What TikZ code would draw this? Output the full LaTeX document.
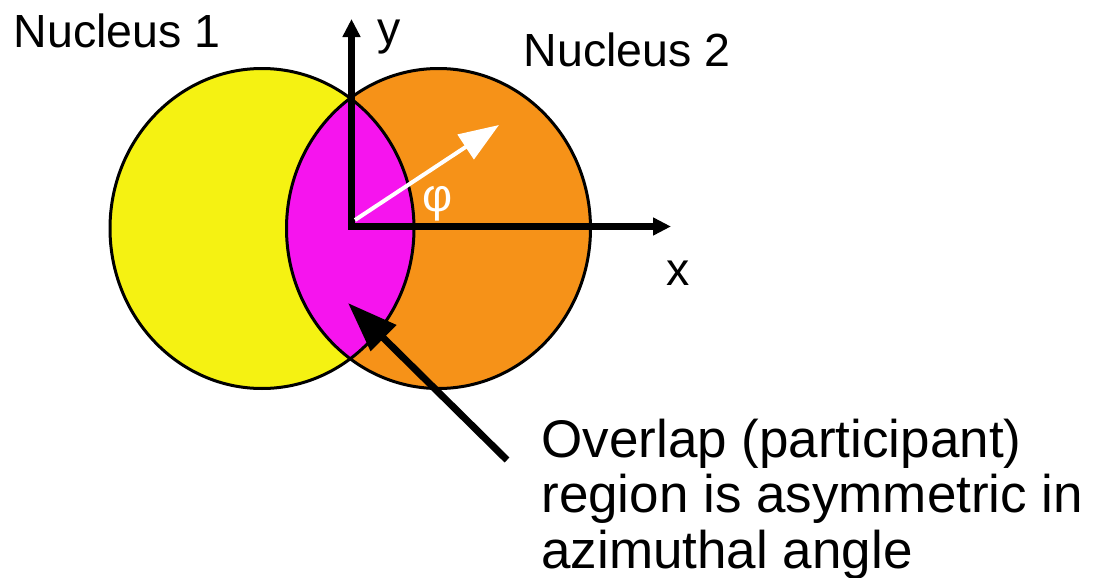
\documentclass[tikz,border=0pt]{standalone}
\usepackage{fontspec}
\setmainfont{Liberation Sans}
\usetikzlibrary{arrows.meta}
\definecolor{nucyellow}{RGB}{245,242,18}
\definecolor{nucorange}{RGB}{246,146,24}
\definecolor{overlap}{RGB}{246,20,238}

\begin{document}
\begin{tikzpicture}[x=0.5pt, y=-0.5pt,
  nucleus/.style={draw=black, line width=1.5pt},
  axis/.style={line width=3.25pt, {Triangle[length=9pt, width=8.5pt]}-{Triangle[length=9pt, width=8.5pt]}},
  lbl/.style={inner sep=0pt, anchor=base west, font=\fontsize{23.25}{28}\selectfont},
  note/.style={inner sep=0pt, anchor=base west, align=left, font=\fontsize{26.5}{27.6}\selectfont},
  arr/.style={-{Triangle[length=25pt, width=17.5pt]}, line width=3.5pt}]
\useasboundingbox (0,0) rectangle (1094,578);
\coordinate (c1) at (262,228.5);
\coordinate (c2) at (438.5,228.5);
% the two nuclei and their overlap
\fill[nucyellow] (c1) ellipse [x radius=152, y radius=160];
\fill[nucorange] (c2) ellipse [x radius=152, y radius=160];
\begin{scope}
  \clip (c1) ellipse [x radius=152, y radius=160];
  \fill[overlap] (c2) ellipse [x radius=152, y radius=160];
\end{scope}
\draw[nucleus] (c1) ellipse [x radius=152, y radius=160];
\draw[nucleus] (c2) ellipse [x radius=152, y radius=160];
% axes
\coordinate (origin) at (351.5,226.5);
\coordinate (ytip) at (351.5,19);
\coordinate (xtip) at (671,226.5);
\draw[axis] (ytip) -- (origin) -- (xtip);
\node[lbl] (ylabel) at (377,45) {y};
\node[lbl] (xlabel) at (666,285) {x};
% reaction-plane angle
\coordinate (phistart) at (355,220);
\coordinate (phitip) at (499,125);
\draw[white, line width=2pt, -{Triangle[length=20pt, width=14.5pt]}] (phistart) -- (phitip);
\node[lbl, white, anchor=base] (philabel) at (438,211) {φ};
% labels
\node[lbl] (nuc1) at (13.5,47) {Nucleus 1};
\node[lbl] (nuc2) at (523.5,67) {Nucleus 2};
\node[note] (caption) at (541,568) {Overlap (participant)\\region is asymmetric in\\azimuthal angle};
\coordinate (tail) at (507,460);
\coordinate (lenspoint) at (348,303);
\draw[arr] (tail) -- (lenspoint);
\end{tikzpicture}
\end{document}
